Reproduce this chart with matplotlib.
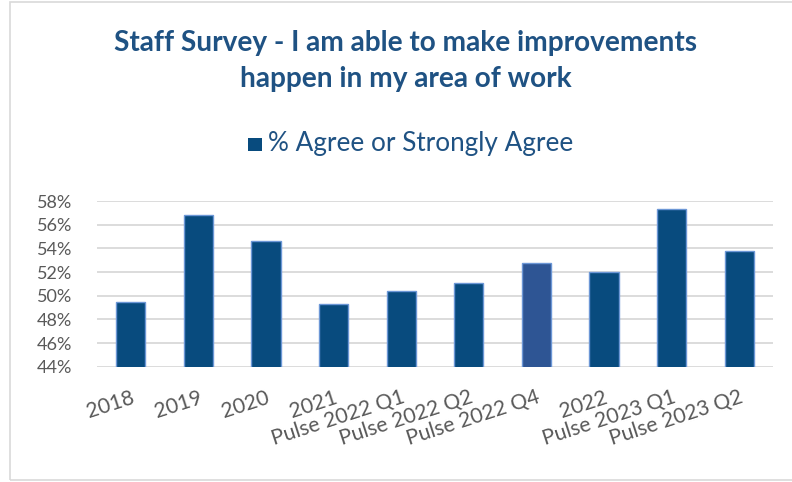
import matplotlib
matplotlib.use("Agg")
import matplotlib.pyplot as plt
from matplotlib.patches import Rectangle
from matplotlib.ticker import FuncFormatter
from matplotlib.transforms import ScaledTranslation

categories = ["2018", "2019", "2020", "2021", "Pulse 2022 Q1", "Pulse 2022 Q2",
              "Pulse 2022 Q4", "2022", "Pulse 2023 Q1", "Pulse 2023 Q2"]
values = [49.5, 56.8, 54.6, 49.3, 50.4, 51.1, 52.8, 52.0, 57.3, 53.8]
highlight = "Pulse 2022 Q4"
series_name = "% Agree or Strongly Agree"
title_lines = ["Staff Survey - I am able to make improvements", "happen in my area of work"]

plt.rcParams['font.family'] = ['Lato', 'DejaVu Sans']

W, H = 792, 482
fig = plt.figure(figsize=(W / 100, H / 100), dpi=100)
fig.patch.set_facecolor("white")
renderer = fig.canvas.get_renderer()


def fit_width(t, target_px):
    w = t.get_window_extent(renderer=renderer).width
    t.set_fontsize(t.get_fontsize() * target_px / w)


# chart border
fig.add_artist(Rectangle((10 / W, 2 / H), (W + 10) / W, (H - 4) / H, transform=fig.transFigure,
                         fill=False, edgecolor="#D9D9D9", linewidth=1.2))

left, right, top, bottom = 97, 773, 201, 366.7
ax = fig.add_axes([left / W, 1 - bottom / H, (right - left) / W, (bottom - top) / H])

main_c = "#084B7E"
hi_c = "#2E5594"
colors = [hi_c if c == highlight else main_c for c in categories]
x = list(range(len(categories)))
ax.bar(x, values, width=0.43, color=colors, edgecolor="#6C97D6", linewidth=1.0,
       zorder=3, label=series_name)

ax.set_ylim(44, 58)
ax.set_xlim(-0.5, len(categories) - 0.5)
ax.set_yticks(range(44, 59, 2))
ax.yaxis.set_major_formatter(FuncFormatter(lambda v, p: f"{v:.0f}%"))
ax.grid(axis="y", color="#D9D9D9", linewidth=1.3, zorder=0)
for s in ax.spines.values():
    s.set_visible(False)
ax.tick_params(axis="both", length=0, colors="#595959", labelsize=13)
ax.tick_params(axis="y", pad=18)

ax.set_xticks(x)
ax.set_xticklabels(categories, rotation=18, ha="right", rotation_mode="anchor")
shift = ScaledTranslation(-6 / 100, 0, fig.dpi_scale_trans)
for lbl in ax.get_xticklabels():
    lbl.set_color("#595959")
    lbl.set_fontsize(15.2)
    lbl.set_transform(lbl.get_transform() + shift)
ax.tick_params(axis="x", pad=15)

t1 = fig.text(405 / W, 1 - 50.5 / H, title_lines[0], ha="center", va="baseline", fontsize=16,
              fontweight="bold", color="#1F5283")
fit_width(t1, 584)
t2 = fig.text(406 / W, 1 - 86.5 / H, title_lines[1], ha="center", va="baseline",
              fontsize=t1.get_fontsize(), fontweight="bold", color="#1F5283")

# legend
fig.add_artist(Rectangle((248 / W, 1 - 151 / H), 14 / W, 13 / H, transform=fig.transFigure,
                         facecolor=main_c, edgecolor="none"))
lt = fig.text(268 / W, 1 - 151.5 / H, series_name, ha="left", va="baseline", fontsize=14,
              color="#1F5283")
fit_width(lt, 305)

fig.savefig("out.png", dpi=100, facecolor="white")
